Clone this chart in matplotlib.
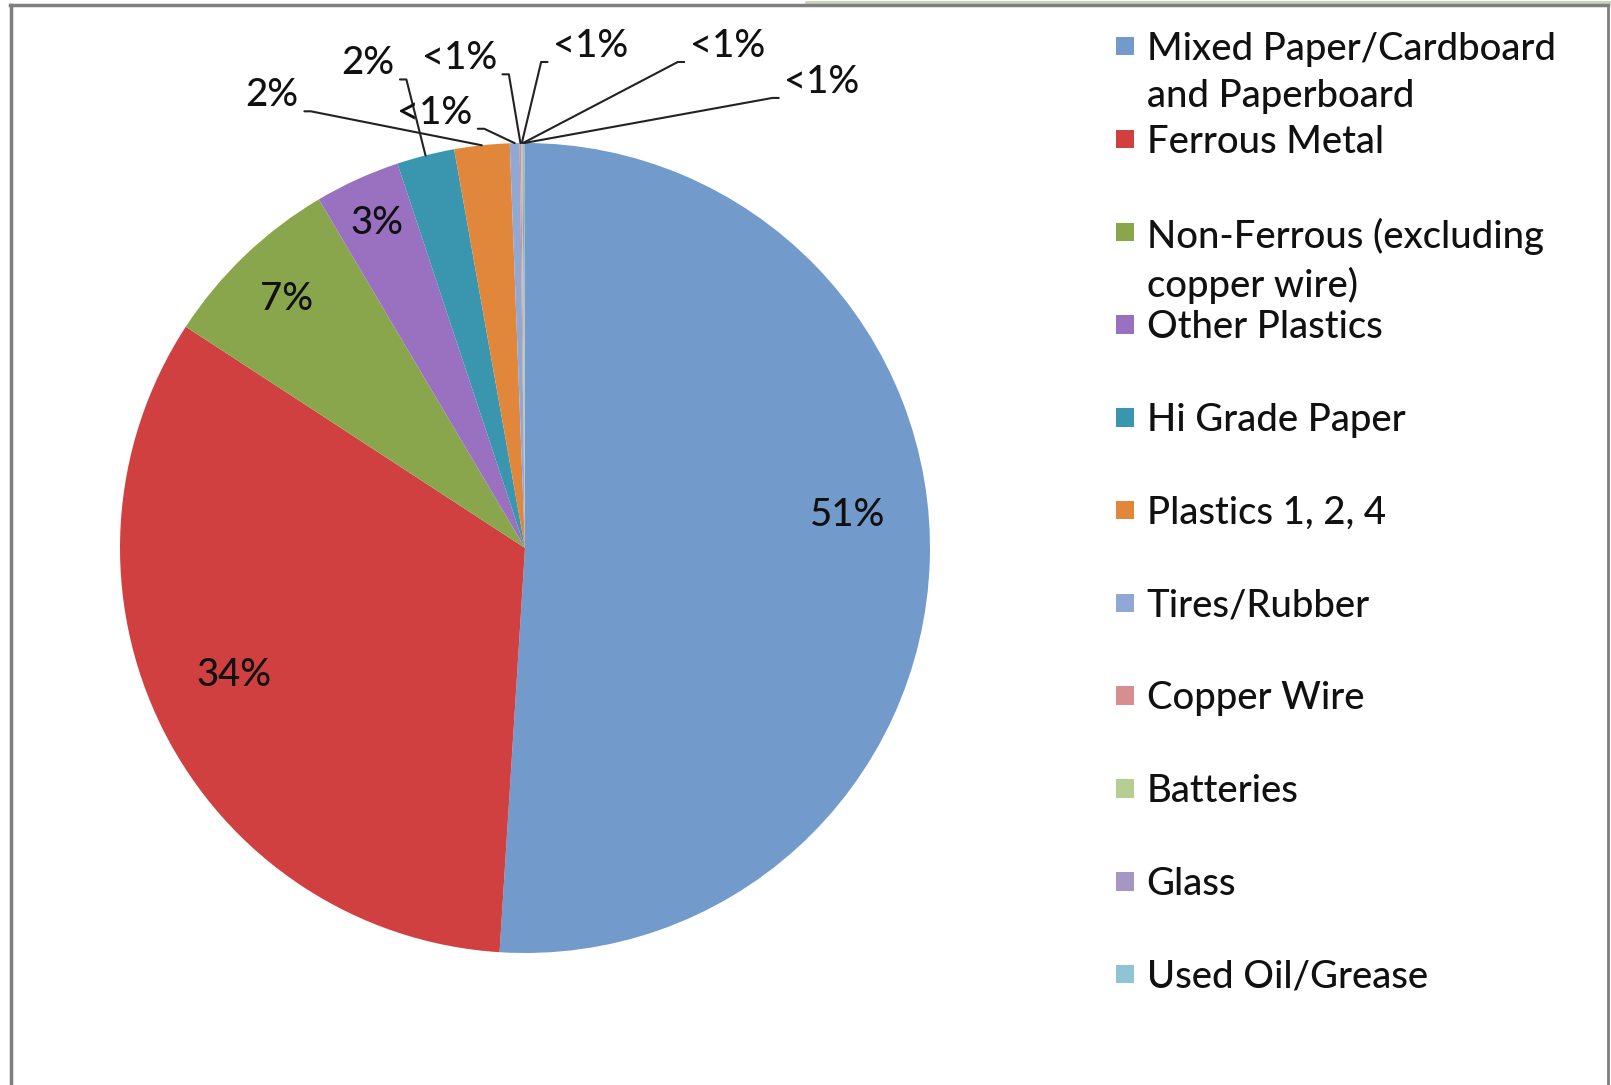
import numpy as np
import matplotlib
matplotlib.use("Agg")
import matplotlib.pyplot as plt
from matplotlib.patches import Rectangle
from matplotlib.lines import Line2D

plt.rcParams['font.family'] = ['Lato', 'DejaVu Sans']

# ---- data ----
categories = [
    "Mixed Paper/Cardboard\nand Paperboard",
    "Ferrous Metal",
    "Non-Ferrous (excluding\ncopper wire)",
    "Other Plastics",
    "Hi Grade Paper",
    "Plastics 1, 2, 4",
    "Tires/Rubber",
    "Copper Wire",
    "Batteries",
    "Glass",
    "Used Oil/Grease",
]
shares = [51.0, 33.2, 7.3, 3.4, 2.3, 2.2, 0.39, 0.06, 0.05, 0.05, 0.05]
pct_labels = ["51%", "34%", "7%", "3%", "2%", "2%", "<1%", "<1%", "<1%", "<1%", "<1%"]
colors = ["#729BCC", "#D04040", "#8AA64C", "#9A70C0", "#3996AE", "#E0873C",
          "#91A8D4", "#D68E8E", "#B7CE92", "#A696C4", "#8EC4D6"]

# layout bits (positions in the reference, shrunk 1568x1056 pixel frame)
W0, H0 = 1568.0, 1056.0
inner_pos = {0: (0.80, 7.5), 1: (0.785, -3.0), 2: (0.85, 0.0), 3: (0.88, 0.0)}
outer_text = {4: (358, 62), 5: (265, 93), 6: (423, 110), 7: (447, 57),
              8: (575, 45), 9: (708, 45), 10: (800, 80)}

fig = plt.figure(figsize=(16.11, 10.85), dpi=100)
fig.patch.set_facecolor("white")

# pie axes: centre (525, 548) px, radius 405 px in the 1611x1085 frame
R = 405
cx, cy = 525, 548
ax = fig.add_axes([(cx - R) / 1611, (1085 - cy - R) / 1085, 2 * R / 1611, 2 * R / 1085])
wedges, _ = ax.pie(shares, colors=colors, startangle=90, counterclock=False,
                   radius=1.0, wedgeprops=dict(linewidth=0))
ax.set_xlim(-1, 1)
ax.set_ylim(-1, 1)
ax.set_aspect("equal")
ax.axis("off")

fs = 27.5
txt_col = "#111111"
for i, w in enumerate(wedges):
    mid = np.deg2rad((w.theta1 + w.theta2) / 2)
    if i in inner_pos:
        r, dth = inner_pos[i]
        a = mid + np.deg2rad(dth)
        ax.text(r * np.cos(a), r * np.sin(a), pct_labels[i], ha="center", va="center",
                fontsize=fs, color=txt_col, fontweight="medium")
    else:
        px, py = outer_text[i]
        left = px < 511
        ax.annotate(pct_labels[i], xy=(np.cos(mid), np.sin(mid)), xycoords="data",
                    xytext=(px / W0, 1 - py / H0), textcoords="figure fraction",
                    ha="center", va="center", fontsize=fs, color=txt_col,
                    fontweight="medium",
                    arrowprops=dict(arrowstyle="-", color="#222222", lw=1.5,
                                    relpos=(1.0, 0.05) if left else (0.0, 0.05),
                                    shrinkA=2, shrinkB=0,
                                    connectionstyle="arc,angleA=%d,armA=12,angleB=0,armB=0,rad=0"
                                    % (0 if left else 180)))

# legend, one row every 90.3 px starting at 45 px
for i, (lab, col) in enumerate(zip(categories, colors)):
    yc = 1 - (45 + i * 90.3) / H0
    fig.add_artist(Rectangle((1086 / W0, yc - 9 / H0), 18 / W0, 18 / H0,
                             transform=fig.transFigure, facecolor=col, edgecolor="none"))
    fig.text(1116 / W0, yc + 14 / H0, lab, ha="left", va="top", fontsize=fs,
             color=txt_col, linespacing=1.42, fontweight="medium")

# screenshot frame
fig.add_artist(Line2D([0.5, 1.0], [0.9985, 0.9985], transform=fig.transFigure,
                      color="#c9d3b4", lw=2.0))
fig.add_artist(Line2D([0.006, 0.998], [0.9952, 0.9952], transform=fig.transFigure,
                      color="#7f7f7f", lw=2.5))
fig.add_artist(Line2D([0.0068, 0.0068], [0.0, 0.9952], transform=fig.transFigure,
                      color="#7f7f7f", lw=2.5))
fig.add_artist(Line2D([0.998, 0.998], [0.0, 0.9952], transform=fig.transFigure,
                      color="#7f7f7f", lw=2.0))

fig.savefig("out.png", dpi=100, facecolor="white")
